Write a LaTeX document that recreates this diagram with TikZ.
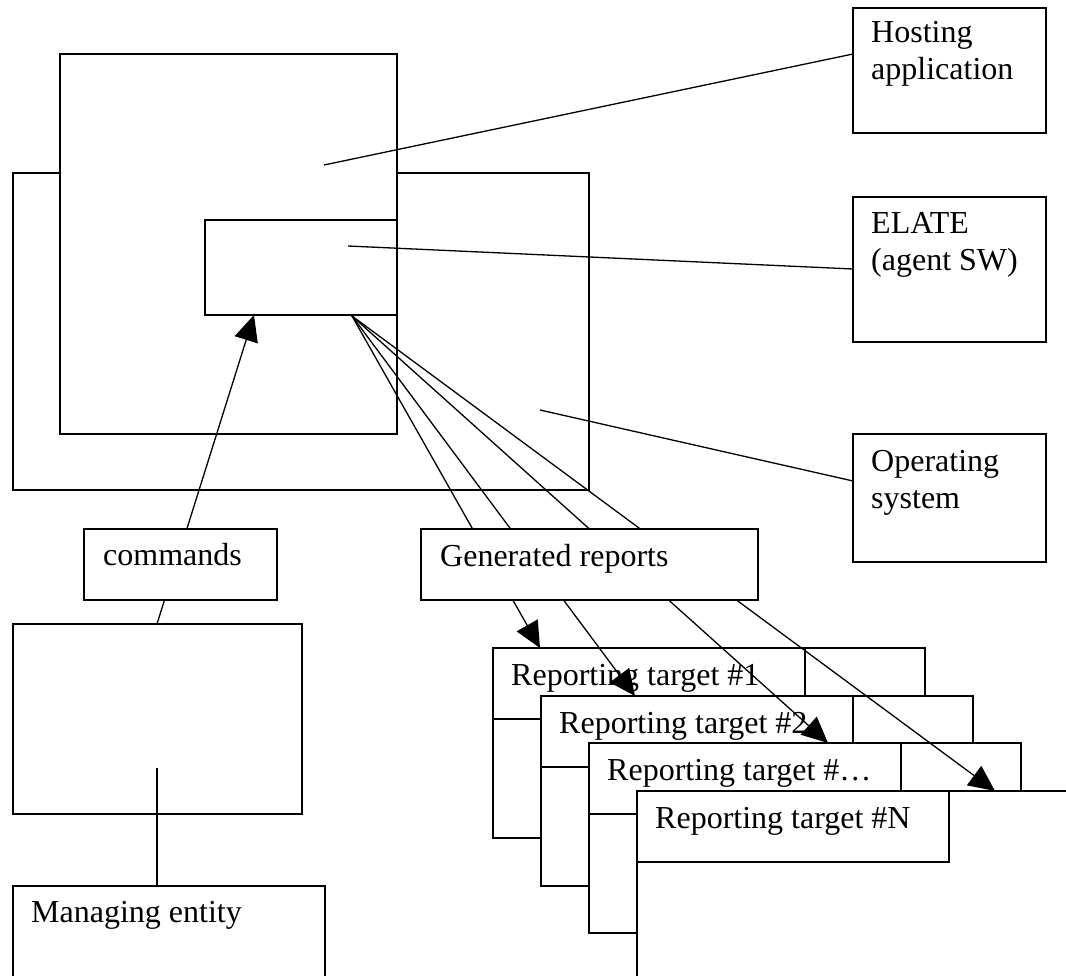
\documentclass[tikz,border=0pt]{standalone}
\usepackage{fontspec}
\setmainfont{Liberation Serif}
\usetikzlibrary{arrows.meta,calc}
\begin{document}
\begin{tikzpicture}[x=1pt,y=-1pt,
  bx/.style={draw, line width=1.8pt, fill=white, inner sep=0pt, outer sep=0pt, anchor=north west},
  txt/.style={anchor=base west, inner sep=0pt, font=\fontsize{32}{37}\selectfont},
  conn/.style={line width=1.3pt},
  arr/.style={line width=1.3pt, -{Triangle[length=26pt,width=24pt]}},
  rtbox/.style={bx, minimum width=432pt, minimum height=190pt},
  rttitle/.style={bx, minimum width=312pt, minimum height=71pt}
]
\useasboundingbox (0,0) rectangle (1066,976);
\fill[white] (0,0) rectangle (1066,976);
\clip (0,0) rectangle (1066,976);

% big boxes
\node[bx, minimum width=576pt, minimum height=317pt] (os) at (13,173) {};
\node[bx, minimum width=337pt, minimum height=380pt] (app) at (60,54) {};
\node[bx, minimum width=192pt, minimum height=95pt] (elate) at (205,220) {};
\node[bx, minimum width=289pt, minimum height=190pt] (mgrhost) at (13,624) {};
\node[bx, minimum width=312pt, minimum height=130pt] (mgr) at (13,886) {};
\node[txt] (mgrt) at ($(mgr.north west)+(18,36)$) {Managing entity};

% legend boxes
\node[bx, minimum width=193pt, minimum height=125pt] (hostlbl) at (853,8) {};
\node[txt] (hostt1) at ($(hostlbl.north west)+(18,35)$) {Hosting};
\node[txt] (hostt2) at ($(hostlbl.north west)+(18,72)$) {application};
\node[bx, minimum width=193pt, minimum height=145pt] (elatelbl) at (853,197) {};
\node[txt] (elatet1) at ($(elatelbl.north west)+(18,37)$) {ELATE};
\node[txt] (elatet2) at ($(elatelbl.north west)+(18,74)$) {(agent SW)};
\node[bx, minimum width=193pt, minimum height=128pt] (oslbl) at (853,434) {};
\node[txt] (ost1) at ($(oslbl.north west)+(18,37)$) {Operating};
\node[txt] (ost2) at ($(oslbl.north west)+(18,74)$) {system};

% reporting targets
\node[rtbox] (rt1) at (493,648) {};
\node[rttitle] (rt1t) at (493,648) {};
\node[txt] (rt1l) at ($(rt1t.north west)+(18,37)$) {Reporting target \#1};
\node[rtbox] (rt2) at (541,696) {};
\node[rttitle] (rt2t) at (541,696) {};
\node[txt] (rt2l) at ($(rt2t.north west)+(18,37)$) {Reporting target \#2};
\node[rtbox] (rt3) at (589,743) {};
\node[rttitle] (rt3t) at (589,743) {};
\node[txt] (rt3l) at ($(rt3t.north west)+(18,37)$) {Reporting target \#…};
\node[rtbox] (rtN) at (637,791) {};
\node[rttitle] (rtNt) at (637,791) {};
\node[txt] (rtNl) at ($(rtNt.north west)+(18,37)$) {Reporting target \#N};

% legend connectors
\draw[conn] ($(app.north west)+(264,111)$) -- ($(hostlbl.north west)+(0,46)$);
\draw[conn] ($(elate.north west)+(143,26)$) -- ($(elatelbl.north west)+(0,72)$);
\draw[conn] ($(os.north west)+(527,237)$) -- ($(oslbl.north west)+(0,47)$);

% report arrows
\draw[arr] ($(elate.south west)+(147,1)$) -- ($(rt1.north west)+(47,0)$);
\draw[arr] ($(elate.south west)+(147,1)$) -- ($(rt2.north west)+(94,0)$);
\draw[arr] ($(elate.south west)+(147,1)$) -- ($(rt3.north west)+(239,0)$);
\draw[arr] ($(elate.south west)+(147,1)$) -- ($(rtN.north west)+(358,0)$);

% command arrow and managing line
\draw[arr] ($(mgrhost.north west)+(144,0)$) -- ($(elate.south west)+(49,0)$);
\draw[conn] ($(mgrhost.north west)+(144,144)$) -- ($(mgr.north west)+(144,0)$);

% label boxes over the lines
\node[bx, minimum width=193pt, minimum height=71pt] (cmd) at (84,529) {};
\node[txt] (cmdt) at ($(cmd.north west)+(19,36)$) {commands};
\node[bx, minimum width=337pt, minimum height=71pt] (gen) at (421,529) {};
\node[txt] (gent) at ($(gen.north west)+(19,37)$) {Generated reports};
\end{tikzpicture}
\end{document}
